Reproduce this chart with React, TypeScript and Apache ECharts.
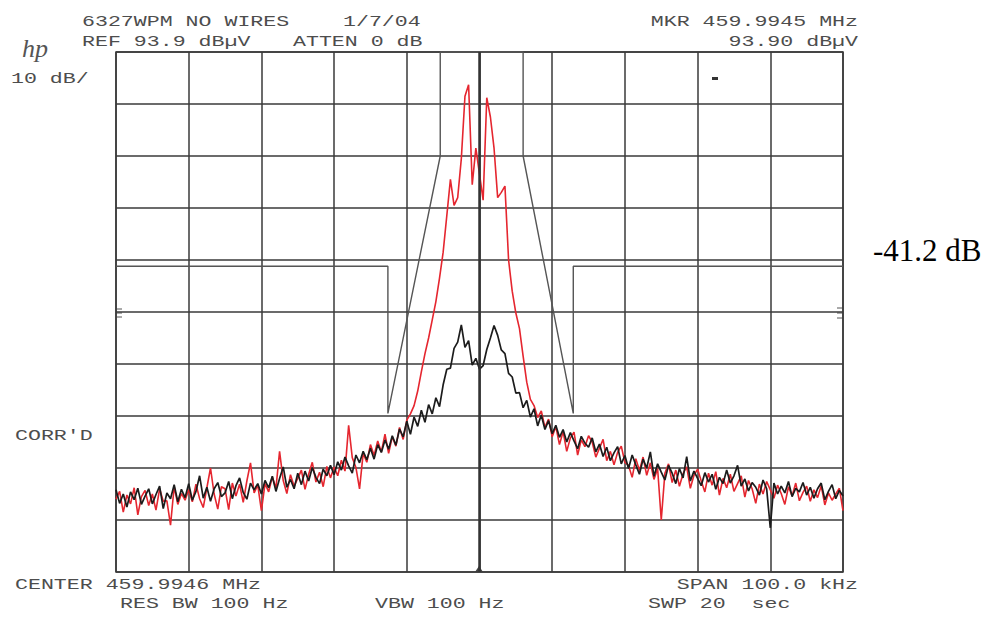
import React, { useEffect, useRef } from "react";
import * as echarts from "echarts";

// ---- Instrument settings ----
const REF_LEVEL_DBUV = 93.9;
const CENTER_MHZ = 459.9946;
const MARKER_MHZ = 459.9945;
const FREQ_START_KHZ = -50;
const FREQ_END_KHZ = 50;
const STEP_KHZ = 0.5;
const DB_PER_DIV = 10;

// ---- Trace readings, dB relative to reference level, every 0.5 kHz from -50 kHz ----
const redTraceDb = [
  -86.0, -84.5, -88.5, -85.2, -86.9, -83.8, -89.0, -85.5, -84.3, -87.2,
  -85.0, -88.1, -84.0, -86.4, -86.3, -91.0, -83.6, -87.0, -84.9, -86.2,
  -84.2, -86.5, -83.1, -85.9, -87.6, -83.8, -80.0, -85.0, -87.9, -83.6,
  -84.0, -88.0, -82.9, -85.4, -83.1, -86.6, -82.5, -79.0, -84.8, -83.3,
  -88.2, -83.0, -84.6, -81.7, -83.9, -76.8, -82.4, -84.9, -81.3, -83.5,
  -82.0, -80.4, -84.1, -81.2, -78.9, -82.7, -80.8, -83.6, -79.7, -81.9,
  -79.8, -81.5, -78.5, -80.6, -71.8, -78.0, -79.9, -84.0, -77.2, -78.9,
  -75.5, -77.6, -74.8, -76.9, -73.5, -77.2, -74.0, -75.8, -72.2, -74.5,
  -70.8, -69.6, -68.0, -65.2, -61.5, -58.0, -55.0, -51.5, -48.0, -43.5,
  -38.5, -31.5, -24.5, -29.5, -28.0, -20.5, -8.5, -6.3, -25.5, -18.5,
  -23.5,
  -28.5, -8.8, -12.5, -18.5, -28.0, -27.0, -25.8, -40.0, -46.0, -50.2,
  -53.2, -58.5, -63.5, -66.8, -68.0, -70.3, -69.0, -72.2, -70.6, -74.0,
  -72.0, -75.5, -73.0, -76.8, -74.2, -73.1, -77.5, -74.6, -75.9, -73.8,
  -75.0, -77.9, -76.2, -74.5, -78.6, -76.8, -79.4, -77.0, -75.8, -78.9,
  -79.5, -81.8, -78.2, -80.5, -77.9, -81.4, -79.0, -82.2, -80.1, -90.0,
  -81.0, -79.2, -82.8, -80.4, -83.5, -81.1, -79.8, -83.9, -81.4, -80.2,
  -82.5, -84.6, -81.0, -83.3, -80.7, -85.2, -82.0, -83.8, -81.2, -84.5,
  -83.0, -81.5, -85.6, -82.4, -84.0, -86.8, -83.1, -85.0, -82.6, -84.2,
  -85.8, -83.3, -84.9, -87.0, -83.6, -85.4, -82.9, -86.3, -84.7, -83.5,
  -86.4, -84.2, -85.7, -83.4, -87.1, -84.8, -86.2, -85.0, -83.9, -88.2,
];

const blackTraceDb = [
  -84.2, -86.8, -85.0, -87.5, -84.6, -86.1, -83.9, -87.0, -85.4, -84.0,
  -86.9, -85.1, -83.5, -87.8, -84.8, -85.9, -83.2, -86.5, -84.1, -85.7,
  -83.0, -86.2, -84.5, -81.5, -85.8, -83.7, -86.4, -84.0, -82.8, -85.5,
  -84.8, -82.6, -85.9, -83.4, -81.9, -84.7, -86.0, -82.9, -84.2, -83.0,
  -85.0, -82.4, -83.8, -81.6, -84.5, -82.0, -79.8, -83.7, -82.2, -84.0,
  -81.0, -83.2, -80.6, -82.5, -79.9, -81.8, -83.0, -80.2, -81.5, -79.5,
  -81.3, -78.8, -80.4, -77.9, -79.6, -81.0, -77.5, -79.0, -76.8, -78.4,
  -76.2, -78.3, -75.5, -77.0, -74.6, -76.4, -73.8, -75.6, -72.5, -74.0,
  -71.0, -73.5, -70.2, -72.0, -68.9, -71.2, -67.8, -69.6, -66.5, -68.2,
  -64.0, -61.0, -60.8, -57.0, -55.8, -52.5, -56.8, -55.5, -60.2, -58.9,
  -61.0,
  -60.3, -57.2, -55.0, -52.6, -54.5, -57.3, -58.0, -61.8, -62.5, -65.6,
  -65.5, -68.4, -67.0, -70.2, -68.6, -71.9, -69.8, -72.6, -70.9, -73.4,
  -71.8, -74.1, -72.6, -75.0, -73.2, -74.8, -76.3, -73.9, -75.2, -76.0,
  -74.2, -76.9, -75.4, -77.8, -76.0, -78.6, -77.1, -75.9, -79.2, -77.6,
  -80.1, -77.5, -79.4, -81.2, -78.3, -80.0, -76.9, -81.6, -79.2, -80.8,
  -82.3, -79.5, -81.0, -83.0, -80.1, -81.9, -77.8, -82.5, -80.6, -82.0,
  -83.4, -80.9, -82.7, -81.2, -84.1, -81.8, -83.0, -80.4, -82.9, -81.5,
  -79.5, -83.5, -82.1, -84.4, -82.8, -83.7, -85.2, -82.3, -84.0, -91.5,
  -82.9, -85.0, -83.5, -84.8, -82.6, -85.5, -83.9, -84.6, -82.8, -85.2,
  -83.7, -85.8, -84.0, -82.9, -86.1, -84.5, -83.2, -85.9, -84.3, -85.4,
];

// ---- Limit mask (template) corners ----
const maskFreqKHz = [-50, -12.6, -12.6, -5.4, -5.4, 6.0, 6.0, 12.9, 12.9, 50];
const maskDb = [-41.2, -41.2, -69.5, -20.0, 0, 0, -20.0, -69.5, -41.2, -41.2];
const maskLabel = "-41.2 dB";

// ---- Annotation texts ----
const titleText = "6327WPM NO WIRES";
const dateText = "1/7/04";
const refText = `REF ${REF_LEVEL_DBUV.toFixed(1)} dBµV`;
const attenText = "ATTEN 0 dB";
const markerFreqText = `MKR ${MARKER_MHZ.toFixed(4)} MHz`;
const markerLevelText = `${REF_LEVEL_DBUV.toFixed(2)} dBµV`;
const scaleText = `${DB_PER_DIV} dB/`;
const corrText = "CORR'D";
const centerText = `CENTER ${CENTER_MHZ.toFixed(4)} MHz`;
const resBwText = "RES BW 100 Hz";
const vbwText = "VBW 100 Hz";
const spanText = `SPAN ${(FREQ_END_KHZ - FREQ_START_KHZ).toFixed(1)} kHz`;
const sweepText = "SWP 20  sec";

const GRID = { left: 116, top: 52, width: 727, height: 520 };
const PLOT_GREY = "#4d4d4d";

function plotterText(text: string, x: number, y: number, align: "left" | "right" = "left") {
  return {
    type: "text",
    x,
    y,
    scaleX: 1.44,
    style: {
      text,
      fontFamily: "Liberation Mono",
      fontSize: 15,
      fill: PLOT_GREY,
      align,
      verticalAlign: "middle",
      textAlign: align,
      textVerticalAlign: "middle",
    },
  };
}

export default function App() {
  const ref = useRef<HTMLDivElement>(null);

  useEffect(() => {
    if (!ref.current) return;
    const chart = echarts.init(ref.current, null, { renderer: "svg" });

    const toPairs = (arr: number[]) => arr.map((v, i) => [FREQ_START_KHZ + i * STEP_KHZ, v]);
    const maskPairs = maskFreqKHz.map((f, i) => [f, maskDb[i]]);
    const markerOffsetKHz = Math.round((MARKER_MHZ - CENTER_MHZ) * 1e4) / 10;

    const gridLine = { show: true, lineStyle: { color: "#3a3a3a", width: 1.5 } };

    const option: any = {
      animation: false,
      backgroundColor: "#ffffff",
      grid: {
        ...GRID,
        show: true,
        borderColor: "#3a3a3a",
        borderWidth: 1.5,
        containLabel: false,
      },
      xAxis: {
        type: "value",
        min: FREQ_START_KHZ,
        max: FREQ_END_KHZ,
        interval: 10,
        axisLine: { show: false },
        axisTick: { show: false },
        axisLabel: { show: false },
        splitLine: gridLine,
      },
      yAxis: {
        type: "value",
        min: -10 * DB_PER_DIV,
        max: 0,
        interval: DB_PER_DIV,
        axisLine: { show: false },
        axisTick: { show: false },
        axisLabel: { show: false },
        splitLine: gridLine,
      },
      series: [
        {
          name: "mask",
          type: "line",
          data: maskPairs,
          symbol: "none",
          clip: false,
          lineStyle: { color: "#555555", width: 1.4 },
          z: 2,
        },
        {
          name: "red",
          type: "line",
          data: toPairs(redTraceDb),
          symbol: "none",
          lineStyle: { color: "#e5262f", width: 1.6 },
          z: 3,
        },
        {
          name: "black",
          type: "line",
          data: toPairs(blackTraceDb),
          symbol: "none",
          lineStyle: { color: "#1c1c1c", width: 1.7 },
          z: 4,
          markLine: {
            silent: true,
            symbol: "none",
            label: { show: false },
            lineStyle: { color: "#333333", width: 2.5, type: "solid" },
            data: [{ xAxis: markerOffsetKHz }],
          },
        },
      ],
      graphic: [
        plotterText(titleText, 82, 22),
        plotterText(dateText, 343, 22),
        plotterText(refText, 82, 42),
        plotterText(attenText, 293, 42),
        plotterText(markerFreqText, 858, 22, "right"),
        plotterText(markerLevelText, 858, 42, "right"),
        plotterText(scaleText, 11, 79),
        plotterText(corrText, 15, 436),
        plotterText(centerText, 15, 585),
        plotterText(resBwText, 120, 604),
        plotterText(vbwText, 375, 604),
        plotterText(spanText, 858, 585, "right"),
        plotterText(sweepText, 648, 604),
        {
          type: "text",
          x: 22,
          y: 48,
          style: {
            text: "hp",
            fontFamily: "Liberation Serif",
            fontStyle: "italic",
            fontSize: 26,
            fill: "#555555",
            align: "left",
            verticalAlign: "middle",
            textAlign: "left",
            textVerticalAlign: "middle",
          },
        },
        {
          type: "text",
          x: 873,
          y: 250,
          style: {
            text: maskLabel,
            fontFamily: "Liberation Serif",
            fontSize: 31,
            fill: "#000000",
            align: "left",
            verticalAlign: "middle",
            textAlign: "left",
            textVerticalAlign: "middle",
          },
        },
        { type: "rect", x: 712, y: 77, shape: { width: 6, height: 3 }, style: { fill: "#333333" } },
        { type: "line", shape: { x1: 116, y1: 309, x2: 122, y2: 309 }, style: { stroke: "#555", lineWidth: 1 } },
        { type: "line", shape: { x1: 116, y1: 313, x2: 122, y2: 313 }, style: { stroke: "#555", lineWidth: 1 } },
        { type: "line", shape: { x1: 116, y1: 317, x2: 122, y2: 317 }, style: { stroke: "#555", lineWidth: 1 } },
        { type: "line", shape: { x1: 837, y1: 308, x2: 843, y2: 308 }, style: { stroke: "#555", lineWidth: 1 } },
        { type: "line", shape: { x1: 837, y1: 313, x2: 843, y2: 313 }, style: { stroke: "#555", lineWidth: 1 } },
        { type: "line", shape: { x1: 837, y1: 318, x2: 843, y2: 318 }, style: { stroke: "#555", lineWidth: 1 } },
        {
          type: "polygon",
          shape: { points: [[475, 572], [483, 572], [479, 566]] },
          style: { fill: "#444444" },
        },
      ],
    };

    chart.setOption(option);
    return () => chart.dispose();
  }, []);

  return (
    <div
      ref={ref}
      style={{ position: "fixed", left: 0, top: 0, width: 987, height: 619, background: "#fff" }}
    />
  );
}
